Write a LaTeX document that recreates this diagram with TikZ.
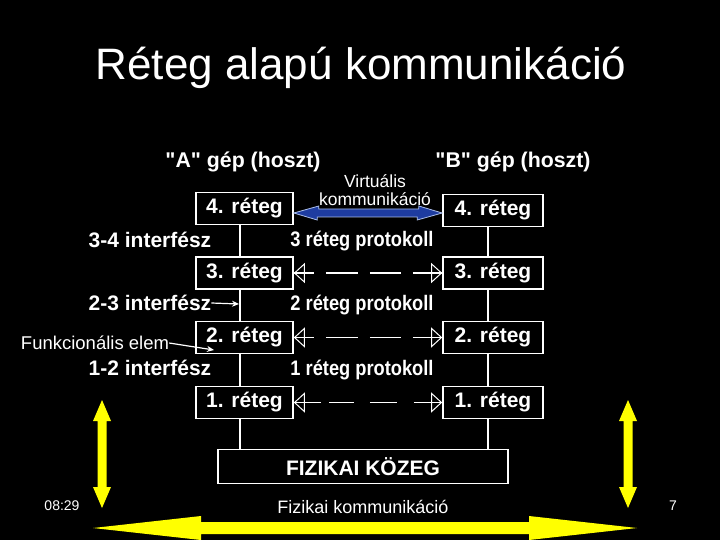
\documentclass[tikz,border=0pt]{standalone}
\usepackage{fontspec}
\setmainfont{Liberation Sans}
\newfontfamily\narrowfont[FakeStretch=0.87]{Liberation Sans}
\newfontfamily\hdrfont{Liberation Sans}
\usetikzlibrary{arrows.meta}
\definecolor{vblue}{RGB}{30,60,160}
\definecolor{vblueline}{RGB}{170,190,235}
\definecolor{ylw}{RGB}{255,255,0}
\begin{document}
\begin{tikzpicture}[x=1pt,y=-1pt,
  layerbox/.style={draw=white, line width=1.6pt, minimum width=97pt, minimum height=32pt, inner sep=0pt, text=white, font=\bfseries\fontsize{21}{23}\selectfont},
  hdr/.style={text=white, inner sep=0pt, font=\hdrfont\bfseries\fontsize{21.3}{23}\selectfont},
  iface/.style={text=white, inner sep=0pt, font=\bfseries\fontsize{21}{23}\selectfont},
  proto/.style={text=white, inner sep=0pt, font=\narrowfont\bfseries\fontsize{21}{23}\selectfont},
  small/.style={text=white, inner sep=0pt, font=\fontsize{17.5}{19}\selectfont},
  wline/.style={draw=white, line width=1.2pt},
  dashA/.style={draw=white, line width=1.4pt, dash pattern=on 20pt off 12pt on 32pt off 12pt on 31pt off 12pt on 40pt off 0pt},
  dashB/.style={draw=white, line width=1.0pt, dash pattern=on 27pt off 8pt on 25pt off 16pt on 27pt off 17pt on 40pt off 0pt},
  otip/.style={-{Triangle[open, length=11pt, width=20pt]}, draw=white, line width=1pt},
  yarrow/.style={fill=ylw, draw=none}
]
\fill[black] (0,0) rectangle (720,540);
\useasboundingbox (0,0) rectangle (720,540);

% title
\node[text=white, font=\fontsize{44}{48}\selectfont, inner sep=0pt] (title) at (361,68) {Réteg alapú kommunikáció};

% headers
\node[hdr] (ha) at (243,162) {"A" gép (hoszt)};
\node[hdr] (hb) at (513,162) {"B" gép (hoszt)};

% layer boxes
\node[layerbox] (a4) at (244.5,208.5) {4. réteg};
\node[layerbox] (a3) at (244.5,273) {3. réteg};
\node[layerbox] (a2) at (244.5,337.5) {2. réteg};
\node[layerbox] (a1) at (244.5,402.5) {1. réteg};
\node[layerbox, minimum width=100pt] (b4) at (493,210.5) {4. réteg};
\node[layerbox, minimum width=100pt] (b3) at (493,273) {3. réteg};
\node[layerbox, minimum width=100pt] (b2) at (493,337.5) {2. réteg};
\node[layerbox, minimum width=100pt] (b1) at (493,402.5) {1. réteg};
\node[layerbox, minimum width=290pt, minimum height=34pt] (fk) at (363,466.5) {FIZIKAI KÖZEG};

% vertical stacks
\draw[wline] ([xshift=-4.5pt]a4.south) -- ([xshift=-4.5pt]a3.north);
\draw[wline] ([xshift=-4.5pt]a3.south) -- ([xshift=-4.5pt]a2.north);
\draw[wline] ([xshift=-4.5pt]a2.south) -- ([xshift=-4.5pt]a1.north);
\draw[wline] ([xshift=-4.5pt]a1.south) -- ([xshift=-4.5pt]a1.south |- fk.north);
\draw[wline] ([xshift=-5pt]b4.south) -- ([xshift=-5pt]b3.north);
\draw[wline] ([xshift=-5pt]b3.south) -- ([xshift=-5pt]b2.north);
\draw[wline] ([xshift=-5pt]b2.south) -- ([xshift=-5pt]b1.north);
\draw[wline] ([xshift=-5pt]b1.south) -- ([xshift=-5pt]b1.south |- fk.north);

% virtual communication
\node[small] (v1) at (375,181) {Virtuális};
\node[small] (v2) at (375,199) {kommunikáció};
\filldraw[fill=vblue, draw=vblueline, line width=0.8pt]
  ([yshift=-4.5pt]a4.east) -- ++(25,-7) -- ++(0,3) -- ++(100,0) -- ++(0,-3) -- ([yshift=-2.5pt]b4.west)
  -- ++(-25,7) -- ++(0,-3) -- ++(-100,0) -- ++(0,3) -- cycle;

% interfaces
\node[iface] (i34) at (150,240) {3-4 interfész};
\node[iface] (i23) at (150,303) {2-3 interfész};
\node[iface] (i12) at (150,368) {1-2 interfész};
\coordinate (i23t) at (239,304);
\draw[white, line width=1.2pt, -{Stealth[length=7pt, width=6pt]}] (i23.east) -- (i23t);

\node[small, font=\fontsize{18.5}{20}\selectfont] (fe) at (95,343) {Funkcionális elem};
\coordinate (fet) at (214,350);
\draw[white, line width=1.2pt, -{Stealth[length=7pt, width=6pt]}] (fe.east) -- (fet);

% protocols
\node[proto] (p3) at (362,241) {3 réteg protokoll};
\node[proto] (p2) at (362,305) {2 réteg protokoll};
\node[proto] (p1) at (362,370) {1 réteg protokoll};

\draw[dashA] (a3.east) -- (b3.west);
\draw[dashA] (a2.east) -- (b2.west);
\draw[dashB] (a1.east) -- (b1.west);
\foreach \r in {1,2,3} {
  \draw[otip] ([xshift=13pt]a\r.east) -- (a\r.east);
  \draw[otip] ([xshift=-13pt]b\r.west) -- (b\r.west);
}

% yellow arrows
\fill[yarrow] (102,400) -- (111,421) -- (106.5,421) -- (106.5,487) -- (111,487) -- (102,508)
  -- (93,487) -- (97.5,487) -- (97.5,421) -- (93,421) -- cycle;
\fill[yarrow] (628,400) -- (637,421) -- (632.5,421) -- (632.5,487) -- (637,487) -- (628,508)
  -- (619,487) -- (623.5,487) -- (623.5,421) -- (619,421) -- cycle;
\fill[yarrow] (93,528) -- (201,516) -- (201,522) -- (529,522) -- (529,516) -- (637,528)
  -- (529,540) -- (529,534) -- (201,534) -- (201,540) -- cycle;

% footer
\node[small, font=\fontsize{18}{20}\selectfont] (fkk) at (363,507) {Fizikai kommunikáció};
\node[text=white, inner sep=0pt, font=\fontsize{14}{16}\selectfont] (time) at (62,506) {08:29};
\node[text=white, inner sep=0pt, font=\fontsize{14}{16}\selectfont] (pg) at (673,506) {7};
\end{tikzpicture}
\end{document}
